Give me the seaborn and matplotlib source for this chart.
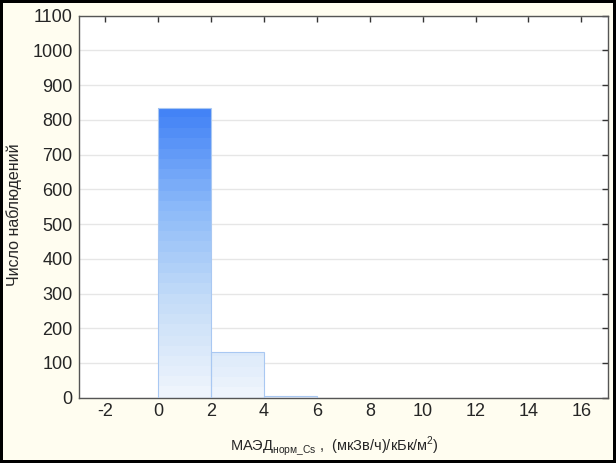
import numpy as np
import matplotlib
matplotlib.use("Agg")
import matplotlib.pyplot as plt
from matplotlib.colors import LinearSegmentedColormap
import seaborn as sns

# --- data ---
bin_edges = [0, 2, 4, 6]
counts = [835, 132, 5]
x_ticks = [-2, 0, 2, 4, 6, 8, 10, 12, 14, 16]
y_ticks = list(range(0, 1101, 100))

sns.set_style("white")
plt.rcParams['font.family'] = ['Liberation Sans', 'DejaVu Sans']
plt.rcParams['mathtext.fontset'] = 'custom'
plt.rcParams['mathtext.rm'] = 'Liberation Sans'

BG = '#fffdf0'
fig = plt.figure(figsize=(6.16, 4.63), dpi=100)
fig.patch.set_facecolor(BG)
fig.patch.set_edgecolor('black')
fig.patch.set_linewidth(3)
ax = fig.add_axes([0.1282, 0.141, 0.8583, 0.825])
ax.set_facecolor('white')

centers = [(a + b) / 2 for a, b in zip(bin_edges[:-1], bin_edges[1:])]
sns.histplot(x=centers, weights=counts, bins=bin_edges, ax=ax,
             element='bars', stat='count', alpha=1,
             edgecolor='#a9c8f2', linewidth=0.8)

# vertical gradient fill for each bar (colour depends on absolute height)
cmap = LinearSegmentedColormap.from_list('bl', ['#eef4fc', '#c4dcf8', '#8ab8f9', '#4383f6'], N=28)
for p in ax.patches:
    x0 = p.get_x()
    w = p.get_width()
    h = p.get_height()
    p.set_facecolor('none')
    p.set_zorder(3)
    if h <= 0:
        continue
    grad = np.linspace(0, h, 200).reshape(-1, 1)
    ax.imshow(grad, extent=[x0, x0 + w, 0, h], origin='lower', aspect='auto',
              cmap=cmap, vmin=0, vmax=840, zorder=2, interpolation='nearest')

ax.set_xlim(-3, 17)
ax.set_ylim(0, 1100)
ax.set_xticks(x_ticks)
ax.set_xticklabels([str(t) for t in x_ticks], fontsize=13)
ax.set_yticks(y_ticks)
ax.set_yticklabels([str(t) for t in y_ticks], fontsize=13)
ax.set_axisbelow(True)
ax.yaxis.grid(True, color='#e6e6e6', linewidth=1)
ax.xaxis.grid(False)

ax.tick_params(direction='in', length=4, width=1, color='#333333',
               top=True, right=True)
ax.tick_params(axis='y', pad=4.5)
ax.tick_params(axis='x', pad=4)
for s in ax.spines.values():
    s.set_color('#555555')
    s.set_linewidth(1)

ax.set_ylabel('Число наблюдений', fontsize=11.5)
ax.yaxis.set_label_coords(-0.108, 0.48)
ax.set_xlabel(r'МАЭД$_{\mathregular{норм\_Cs}}$ ,  (мкЗв/ч)/кБк/м$^{\mathregular{2}}$)',
              fontsize=10.5)
ax.xaxis.set_label_coords(0.484, -0.095)

fig.savefig('out.png', dpi=100, facecolor=BG, edgecolor='black')
